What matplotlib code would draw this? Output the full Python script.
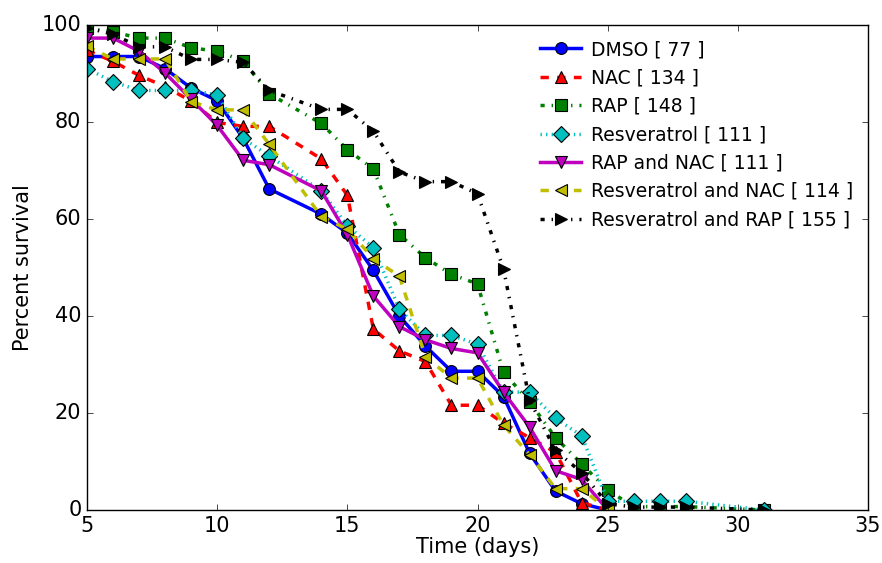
import matplotlib
matplotlib.use('Agg')
import matplotlib.pyplot as plt

# survival curves
dmso_days = [5, 6, 7, 8, 9, 10, 11, 12, 14, 15, 16, 17, 18, 19, 20, 21, 22, 23, 24, 25]
dmso_surv = [93.5, 93.5, 93.5, 91.0, 87.0, 84.4, 76.6, 66.2, 61.0, 57.1, 49.4, 40.0, 33.8, 28.6, 28.6, 23.4, 11.7, 3.9, 1.3, 0.0]

nac_days = [5, 6, 7, 8, 9, 10, 11, 12, 14, 15, 16, 17, 18, 19, 20, 21, 22, 23, 24, 25]
nac_surv = [94.8, 92.5, 89.6, 87.3, 84.3, 79.9, 79.1, 79.1, 72.4, 64.9, 37.3, 32.8, 30.6, 21.6, 21.6, 17.9, 14.9, 11.9, 1.5, 0.0]

rap_days = [5, 6, 7, 8, 9, 10, 11, 12, 14, 15, 16, 17, 18, 19, 20, 21, 22, 23, 24, 25, 26, 27, 28, 31]
rap_surv = [99.3, 98.6, 97.3, 97.3, 95.3, 94.6, 92.6, 85.8, 79.7, 74.3, 70.3, 56.8, 52.0, 48.6, 46.6, 28.4, 22.3, 14.9, 9.5, 4.1, 0.7, 0.7, 0.7, 0.0]

res_days = [5, 6, 7, 8, 9, 10, 11, 12, 14, 15, 16, 17, 18, 19, 20, 21, 22, 23, 24, 25, 26, 27, 28, 31]
res_surv = [91.0, 88.3, 86.5, 86.5, 86.5, 85.6, 76.6, 73.0, 65.8, 58.6, 54.1, 41.4, 36.0, 36.0, 34.2, 24.3, 24.3, 18.9, 15.3, 1.8, 1.8, 1.8, 1.8, 0.0]

rapnac_days = [5, 6, 7, 8, 9, 10, 11, 12, 14, 15, 16, 17, 18, 19, 20, 21, 22, 23, 24, 25]
rapnac_surv = [97.3, 97.3, 94.6, 90.1, 84.7, 79.3, 72.1, 71.2, 65.8, 56.8, 44.1, 37.8, 35.1, 33.3, 32.4, 24.3, 17.1, 8.1, 6.3, 0.0]

resnac_days = [5, 6, 7, 8, 9, 10, 11, 12, 14, 15, 16, 17, 18, 19, 20, 21, 22, 23, 24, 25]
resnac_surv = [95.6, 93.0, 93.0, 93.0, 84.2, 82.5, 82.5, 75.4, 60.5, 57.9, 51.8, 48.2, 31.6, 27.2, 27.2, 17.5, 11.4, 4.4, 4.4, 0.0]

resrap_days = [5, 6, 7, 8, 9, 10, 11, 12, 14, 15, 16, 17, 18, 19, 20, 21, 22, 23, 24, 25, 26, 27, 28, 31]
resrap_surv = [99.4, 98.1, 95.5, 95.5, 92.9, 92.9, 92.3, 86.5, 82.6, 82.6, 78.1, 69.7, 67.7, 67.7, 65.2, 49.7, 22.6, 12.3, 7.7, 1.3, 0.6, 0.6, 0.6, 0.0]

labels = ['DMSO [ 77 ]', 'NAC [ 134 ]', 'RAP [ 148 ]', 'Resveratrol [ 111 ]',
          'RAP and NAC [ 111 ]', 'Resveratrol and NAC [ 114 ]', 'Resveratrol and RAP [ 155 ]']

plt.style.use('classic')
plt.rcParams['font.family'] = 'DejaVu Sans'

fig = plt.figure(figsize=(8.82, 5.63), dpi=100, facecolor='white')
ax = fig.add_axes([87 / 882, 53 / 563, 781 / 882, 485 / 563])

series = [
    (dmso_days, dmso_surv, 'b', '-', 'o'),
    (nac_days, nac_surv, 'r', '--', '^'),
    (rap_days, rap_surv, 'g', '-.', 's'),
    (res_days, res_surv, 'c', ':', 'D'),
    (rapnac_days, rapnac_surv, 'm', '-', 'v'),
    (resnac_days, resnac_surv, 'y', '--', '<'),
    (resrap_days, resrap_surv, 'k', '-.', '>'),
]
for (days, surv, col, ls, mk), lab in zip(series, labels):
    ax.plot(days, surv, color=col, linestyle=ls, marker=mk, linewidth=2.5,
            markersize=8.5, markeredgecolor='k', markeredgewidth=0.8, label=lab)

ax.set_xlim(5, 35)
ax.set_ylim(0, 100)
ax.set_xticks(range(5, 36, 5))
ax.set_yticks(range(0, 101, 20))
ax.tick_params(labelsize=15)
ax.set_xlabel('Time (days)', fontsize=15, labelpad=1)
ax.set_ylabel('Percent survival', fontsize=15, labelpad=6)
ax.legend(loc='upper right', frameon=False, numpoints=1, fontsize=13.5,
          handlelength=2.2, handletextpad=0.5, borderaxespad=0.4,
          labelspacing=0.5)

fig.savefig('out.png', dpi=100, facecolor='white')
